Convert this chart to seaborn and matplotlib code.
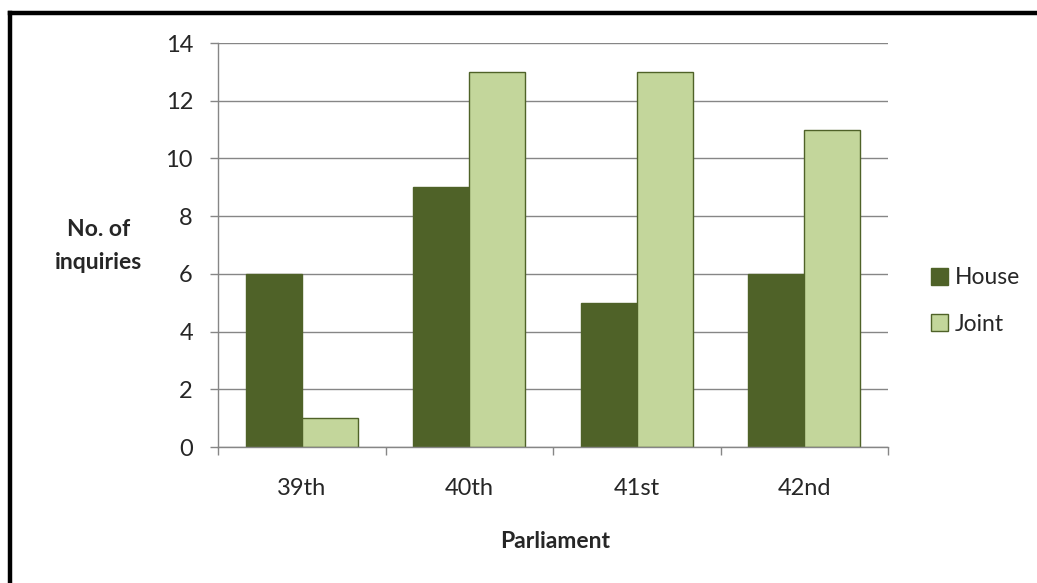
import matplotlib
matplotlib.use("Agg")
import matplotlib.pyplot as plt
import seaborn as sns
import pandas as pd
import numpy as np
from matplotlib.lines import Line2D
from matplotlib.patches import Patch

parliaments = ["39th", "40th", "41st", "42nd"]
house = [6, 9, 5, 6]
joint = [1, 13, 13, 11]
series_names = ["House", "Joint"]
yticks = [0, 2, 4, 6, 8, 10, 12, 14]

df = pd.DataFrame({
    "Parliament": parliaments * 2,
    "Inquiries": house + joint,
    "Type": [series_names[0]] * 4 + [series_names[1]] * 4,
})

sns.set_theme(style="white")
plt.rcParams['font.family'] = ['Lato', 'DejaVu Sans']

house_c = "#4F6228"
joint_c = "#C3D69B"
edge_c = "#4F6228"
grid_c = "#868686"

fig = plt.figure(figsize=(10.37, 5.83), dpi=100)
ax = fig.add_axes([218/1037, 1 - 447/583, (888-218)/1037, (447-43)/583])

sns.barplot(data=df, x="Parliament", y="Inquiries", hue="Type",
            palette=[house_c, joint_c], width=0.667, ax=ax,
            edgecolor=edge_c, linewidth=1.0, legend=False, saturation=1)

ax.set_xlim(-0.5, 3.5)
ax.set_ylim(0, 14)
ax.set_yticks(yticks)
ax.set_yticklabels([str(v) for v in yticks], fontsize=17)
ax.yaxis.grid(True, color=grid_c, linewidth=1.0)
ax.set_axisbelow(True)
ax.tick_params(axis='y', which='major', length=6, width=1, color=grid_c, direction='out', pad=12, left=True)

ax.set_xticks(range(4))
ax.set_xticklabels(parliaments, fontsize=17)
ax.tick_params(axis='x', which='major', length=0, pad=22)
ax.set_xticks([-0.5, 0.5, 1.5, 2.5, 3.5], minor=True)
ax.tick_params(axis='x', which='minor', length=6, width=1, color=grid_c, direction='out', bottom=True)

for s in ["top", "right"]:
    ax.spines[s].set_visible(False)
for s in ["left", "bottom"]:
    ax.spines[s].set_color(grid_c)
    ax.spines[s].set_linewidth(1.0)

ax.set_xlabel("")
ax.set_ylabel("")
fig.text(99/1037, 1 - 246/583, "No. of\ninquiries", ha="center", va="center",
         fontsize=16.5, fontweight="bold", linespacing=1.65)
fig.text(555/1037, 1 - 541/583, "Parliament", ha="center", va="center",
         fontsize=16.5, fontweight="bold")

handles = [Patch(facecolor=house_c, edgecolor=edge_c, label=series_names[0]),
           Patch(facecolor=joint_c, edgecolor=edge_c, label=series_names[1])]
fig.legend(handles=handles, loc="center left", bbox_to_anchor=(931/1037, 1 - 301/583),
           frameon=False, fontsize=16.5, handlelength=0.75, handleheight=0.75,
           handletextpad=0.3, labelspacing=1.1, borderpad=0, borderaxespad=0)

# outer frame (partially cropped)
fig.add_artist(Line2D([10/1037, 10/1037], [0, 1 - 13/583], transform=fig.transFigure,
                      color="black", linewidth=3.2, solid_capstyle="projecting"))
fig.add_artist(Line2D([10/1037, 1], [1 - 13/583, 1 - 13/583], transform=fig.transFigure,
                      color="black", linewidth=3.2, solid_capstyle="projecting"))

fig.savefig("out.png", dpi=100)
